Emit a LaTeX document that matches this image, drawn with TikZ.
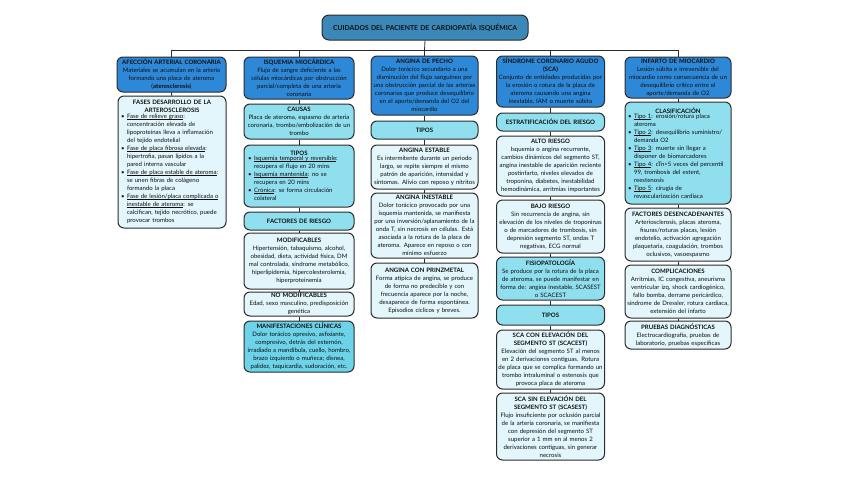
\documentclass[tikz,border=0pt]{standalone}
\usepackage{fontspec}
\setmainfont{Lato}
\definecolor{titlefill}{HTML}{3A87B8}
\definecolor{topblue}{HTML}{2E88D8}
\definecolor{cyanc}{HTML}{90DFEF}
\definecolor{cyand}{HTML}{6CD3E9}
\definecolor{lightc}{HTML}{E2F6FB}
\definecolor{edgec}{HTML}{2B2B2B}
\definecolor{txtc}{HTML}{101010}
\newcommand{\myul}[1]{\setbox0\hbox{#1}\rlap{\rule[-0.9pt]{\wd0}{0.35pt}}\box0}
\newcommand{\itm}[1]{\makebox[6pt][l]{\textbullet}#1}
\newcommand{\cnt}[1]{\hspace*{6pt}#1}
\newcommand{\blist}[2]{\parbox{#1}{\raggedright #2}}
\begin{document}
\begin{tikzpicture}[x=1pt,y=1pt,
  box/.style={draw=edgec, line width=1pt, rounded corners=6pt, align=center,
    inner sep=0.5pt, text=txtc, font=\fontsize{6.05}{8}\selectfont,
    execute at begin node={\hyphenpenalty=10000\exhyphenpenalty=10000\tolerance=10000\emergencystretch=0pt}},
  bluebox/.style={box, fill=topblue},
  cyanbox/.style={box, fill=cyanc},
  cyandbox/.style={box, fill=cyand},
  lightbox/.style={box, fill=lightc},
  conn/.style={draw=edgec, line width=0.8pt}
]
\useasboundingbox (0,0) rectangle (848,-477);

% title
\node[box, fill=titlefill, minimum height=25, text width=205, rounded corners=7pt,
  font=\fontsize{6.8}{8}\selectfont\bfseries] (title) at (425,-27.5)
  {CUIDADOS DEL PACIENTE DE CARDIOPATÍA ISQUÉMICA};

% column 1
\node[bluebox, text width=108, minimum height=35] (a1) at (171.5,-74.5)
  {\textbf{AFECCIÓN ARTERIAL CORONARIA}\\Materiales se acumulan en la arteria\\formando una placa de ateroma\\(\textbf{aterosclerosis})};
\node[lightbox, text width=107, minimum height=132] (a2) at (172,-162)
  {\textbf{FASES DESARROLLO DE LA}\\\textbf{ARTEROSCLEROSIS}\\
   \blist{102pt}{\itm{\myul{Fase de relieve graso}:}\\
   \cnt{concentración elevada de}\\
   \cnt{lipoproteínas lleva a inflamación}\\
   \cnt{del tejido endotelial}\\
   \itm{\myul{Fase de placa fibrosa elevada}:}\\
   \cnt{hipertrofia, pasan lípidos a la}\\
   \cnt{pared interna vascular}\\
   \itm{\myul{Fase de placa estable de ateroma}:}\\
   \cnt{se unen fibras de colágeno}\\
   \cnt{formando la placa}\\
   \itm{\myul{Fase de lesión/placa complicada o}}\\
   \cnt{\myul{inestable de ateroma}: se}\\
   \cnt{calcifican, tejido necrótico, puede}\\
   \cnt{provocar trombos}}};

% column 2
\node[bluebox, text width=109, minimum height=42] (b1) at (299,-78)
  {\textbf{ISQUEMIA MIOCÁRDICA}\\Flujo de sangre deficiente a las\\células miocárdicas por obstrucción\\parcial/completa de una arteria\\coronaria};
\node[cyanbox, text width=109, minimum height=35] (b2) at (299,-121.5)
  {\textbf{CAUSAS}\\Placa de ateroma, espasmo de arteria\\coronaria, trombo/embolización de un\\trombo};
\node[cyanbox, text width=109, minimum height=62] (b3) at (299,-176)
  {\textbf{TIPOS}\\
   \blist{102pt}{\itm{\myul{Isquemia temporal y reversible}:}\\
   \cnt{recupera el flujo en 20 mins}\\
   \itm{\myul{Isquemia mantenida}: no se}\\
   \cnt{recupera en 20 mins}\\
   \itm{\myul{Crónica}: se forma circulación}\\
   \cnt{colateral}}};
\node[cyanbox, text width=109, minimum height=18] (b4) at (299,-221)
  {\textbf{FACTORES DE RIESGO}};
\node[lightbox, text width=109, minimum height=56] (b5) at (299,-261)
  {\textbf{MODIFICABLES}\\Hipertensión, tabaquismo, alcohol,\\obesidad, dieta, actividad física, DM\\mal controlada, síndrome metabólico,\\hiperlipidemia, hipercolesterolemia,\\hiperproteinemia};
\node[lightbox, text width=109, minimum height=24] (b6) at (299,-304)
  {\textbf{NO MODIFICABLES}\\Edad, sexo masculino, predisposición\\genética};
\node[cyandbox, text width=109, minimum height=51] (b7) at (299,-346.5)
  {\textbf{MANIFESTACIONES CLÍNICAS}\\Dolor torácico opresivo, asfixiante,\\compresivo, detrás del esternón,\\irradiado a mandíbula, cuello, hombro,\\brazo izquierdo o muñeca; disnea,\\palidez, taquicardia, sudoración, etc.};

% column 3
\node[bluebox, text width=106, minimum height=59] (c1) at (424.5,-85.5)
  {\textbf{ANGINA DE PECHO}\\Dolor torácico secundario a una\\disminución del flujo sanguíneo por\\una obstrucción parcial de las arterias\\coronarias que produce desequilibrio\\en el aporte/demanda del O2 del\\miocardio};
\node[cyanbox, text width=106, minimum height=18] (c2) at (424.5,-130)
  {\textbf{TIPOS}};
\node[lightbox, text width=106, minimum height=44] (c3) at (424.5,-167)
  {\textbf{ANGINA ESTABLE}\\Es intermitente durante un periodo\\largo, se repite siempre el mismo\\patrón de aparición, intensidad y\\síntomas. Alivio con reposo y nitritos};
\node[lightbox, text width=106, minimum height=65] (c4) at (424.5,-225.5)
  {\textbf{ANGINA INESTABLE}\\Dolor torácico provocado por una\\isquemia mantenida, se manifiesta\\por una inversión/aplanamiento de la\\onda T, sin necrosis en células. Está\\asociada a la rotura de la placa de\\ateroma. Aparece en reposo o con\\mínimo esfuerzo};
\node[lightbox, text width=106, minimum height=55] (c5) at (424.5,-290.5)
  {\textbf{ANGINA CON PRINZMETAL}\\Forma atípica de angina, se produce\\de forma no predecible y con\\frecuencia aparece por la noche,\\desaparece de forma espontánea.\\Episodios cíclicos y breves.};

% column 4
\node[bluebox, text width=107, minimum height=51] (d1) at (550.5,-81.5)
  {\textbf{SÍNDROME CORONARIO AGUDO}\\\textbf{(SCA)}\\Conjunto de entidades producidas por\\la erosión o rotura de la placa de\\ateroma causando una angina\\inestable, IAM o muerte súbita};
\node[cyanbox, text width=107, minimum height=18] (d2) at (550.5,-122)
  {\textbf{ESTRATIFICACIÓN DEL RIESGO}};
\node[lightbox, text width=107, minimum height=60] (d3) at (550.5,-166)
  {\textbf{ALTO RIESGO}\\Isquemia o angina recurrente,\\cambios dinámicos del segmento ST,\\angina inestable de aparición reciente\\postinfarto, niveles elevados de\\troponina, diabetes, inestabilidad\\hemodinámica, arritmias importantes};
\node[lightbox, text width=107, minimum height=53] (d4) at (550.5,-226.5)
  {\textbf{BAJO RIESGO}\\Sin recurrencia de angina, sin\\elevación de los niveles de troponinas\\o de marcadores de trombosis, sin\\depresión segmento ST, ondas T\\negativas, ECG normal};
\node[cyanbox, text width=107, minimum height=43] (d5) at (550.5,-278.5)
  {\textbf{FISIOPATOLOGÍA}\\Se produce por la rotura de la placa\\de ateroma, se puede manifestar en\\forma de: angina inestable, SCASEST\\o SCACEST};
\node[cyanbox, text width=107, minimum height=20] (d6) at (550.5,-315)
  {\textbf{TIPOS}};
\node[lightbox, text width=107, minimum height=59] (d7) at (550.5,-359.5)
  {\textbf{SCA CON ELEVACIÓN DEL}\\\textbf{SEGMENTO ST (SCACEST)}\\Elevación del segmento ST al menos\\en 2 derivaciones contiguas. Rotura\\de placa que se complica formando un\\trombo intraluminal o estenosis que\\provoca placa de ateroma};
\node[lightbox, text width=107, minimum height=67] (d8) at (550.5,-426.5)
  {\textbf{SCA SIN ELEVACIÓN DEL}\\\textbf{SEGMENTO ST (SCASEST)}\\Flujo insuficiente por oclusión parcial\\de la arteria coronaria, se manifiesta\\con depresión del segmento ST\\superior a 1 mm en al menos 2\\derivaciones contiguas, sin generar\\necrosis};

% column 5
\node[bluebox, text width=105, minimum height=41] (e1) at (678,-77.5)
  {\textbf{INFARTO DE MIOCARDIO}\\Lesión súbita e irreversible del\\miocardio como consecuencia de un\\desequilibrio crítico entre el\\aporte/demanda de O2};
\node[cyanbox, text width=105, minimum height=102] (e2) at (678,-153)
  {\textbf{CLASIFICACIÓN}\\
   \blist{100pt}{\itm{\myul{Tipo 1}: erosión/rotura placa}\\
   \cnt{ateroma}\\
   \itm{\myul{Tipo 2}: desequilibrio suministro/}\\
   \cnt{demanda O2}\\
   \itm{\myul{Tipo 3}: muerte sin llegar a}\\
   \cnt{disponer de biomarcadores}\\
   \itm{\myul{Tipo 4}: cTn>5 veces del percentil}\\
   \cnt{99, trombosis del estent,}\\
   \cnt{reestenosis}\\
   \itm{\myul{Tipo 5}: cirugía de}\\
   \cnt{revascularización cardiaca}}};
\node[lightbox, text width=105, minimum height=53] (e3) at (678,-234.5)
  {\textbf{FACTORES DESENCADENANTES}\\Arteriosclerosis, placas ateroma,\\fisuras/roturas placas, lesión\\endotelio, activación agregación\\plaquetaria, coagulación, trombos\\oclusivos, vasoespasmo};
\node[lightbox, text width=105, minimum height=53] (e4) at (678,-291.5)
  {\textbf{COMPLICACIONES}\\Arritmias, IC congestiva, aneurisma\\ventricular izq, shock cardiogénico,\\fallo bomba, derrame pericárdico,\\síndrome de Dressler, rotura cardiaca,\\extensión del infarto};
\node[lightbox, text width=105, minimum height=28] (e5) at (678,-335)
  {\textbf{PRUEBAS DIAGNÓSTICAS}\\Electrocardiografía, pruebas de\\laboratorio, pruebas específicas};

% connectors
\coordinate (bar1) at (171.5,-50);
\coordinate (bar2) at (299,-50);
\coordinate (bar3) at (424.5,-50);
\coordinate (bar4) at (550.5,-50);
\coordinate (bar5) at (678,-50);
\draw[conn] (title.south) -- (bar3);
\draw[conn] (bar1) -- (bar5);
\draw[conn] (bar1) -- (a1.north);
\draw[conn] (bar2) -- (b1.north);
\draw[conn] (bar3) -- (c1.north);
\draw[conn] (bar4) -- (d1.north);
\draw[conn] (bar5) -- (e1.north);
\draw[conn] (a1) -- (a2);
\draw[conn] (b1) -- (b2);
\draw[conn] (b2) -- (b3);
\draw[conn] (b3) -- (b4);
\draw[conn] (b4) -- (b5);
\draw[conn] (b5) -- (b6);
\draw[conn] (b6) -- (b7);
\draw[conn] (c1) -- (c2);
\draw[conn] (c2) -- (c3);
\draw[conn] (c3) -- (c4);
\draw[conn] (c4) -- (c5);
\draw[conn] (d1) -- (d2);
\draw[conn] (d2) -- (d3);
\draw[conn] (d3) -- (d4);
\draw[conn] (d4) -- (d5);
\draw[conn] (d5) -- (d6);
\draw[conn] (d6) -- (d7);
\draw[conn] (d7) -- (d8);
\draw[conn] (e1) -- (e2);
\draw[conn] (e2) -- (e3);
\draw[conn] (e3) -- (e4);
\draw[conn] (e4) -- (e5);
\end{tikzpicture}
\end{document}
